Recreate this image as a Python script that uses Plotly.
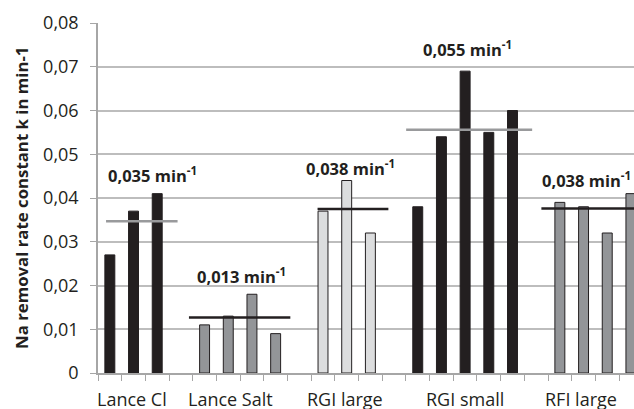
import plotly.graph_objects as go

# ---- data ----
groups = ["Lance Cl", "Lance Salt", "RGI large", "RGI small", "RFI large"]
values = [
    [0.027, 0.037, 0.041],
    [0.011, 0.013, 0.018, 0.009],
    [0.037, 0.044, 0.032],
    [0.038, 0.054, 0.069, 0.055, 0.060],
    [0.039, 0.038, 0.032, 0.041],
]
bar_colors = ["#231f20", "#939598", "#dcddde", "#231f20", "#939598"]
mean_values = [0.0347, 0.0127, 0.0375, 0.0556, 0.0376]
mean_labels = ["0,035", "0,013", "0,038", "0,055", "0,038"]
mean_colors = ["#999a9c", "#231f20", "#231f20", "#999a9c", "#231f20"]
line_start = [-0.16, 3.34, 8.77, 12.51, 18.22]
line_end = [2.86, 7.62, 11.76, 17.83, 22.6]
label_x = [1.79, 5.57, 10.15, 15.09, 20.13]
label_y = [0.0452, 0.0221, 0.04695, 0.07415, 0.0442]
group_label_x = [0.95, 5.1, 9.93, 15.0, 19.9]
ytick_vals = [0, 0.01, 0.02, 0.03, 0.04, 0.05, 0.06, 0.07, 0.08]
ytick_text = ["0", "0,01", "0,02", "0,03", "0,04", "0,05", "0,06", "0,07", "0,08"]

FONT = "Open Sans"

fig = go.Figure()

pos = 0
for g, vals in enumerate(values):
    xs = list(range(pos, pos + len(vals)))
    fig.add_trace(go.Bar(
        x=xs, y=vals, width=0.42,
        marker=dict(color=bar_colors[g], line=dict(color="#231f20", width=1)),
        showlegend=False, hoverinfo="y",
    ))
    pos += len(vals) + 1

for g in range(len(groups)):
    fig.add_trace(go.Scatter(
        x=[line_start[g], line_end[g]], y=[mean_values[g], mean_values[g]],
        mode="lines", line=dict(color=mean_colors[g], width=2.5),
        showlegend=False, hoverinfo="skip", cliponaxis=True,
    ))
    fig.add_annotation(
        x=label_x[g], y=label_y[g], xref="x", yref="y",
        text="<b>%s min<sup>-1</sup></b>" % mean_labels[g],
        showarrow=False, font=dict(family=FONT, size=16.5, color="#231f20"),
        xanchor="center", yanchor="middle",
    )
    fig.add_annotation(
        x=group_label_x[g], y=-0.075, xref="x", yref="paper",
        text=groups[g], showarrow=False,
        font=dict(family=FONT, size=18, color="#231f20"),
        xanchor="center", yanchor="middle",
    )

fig.add_annotation(
    x=-0.1437, y=0.5, xref="paper", yref="paper",
    text="<b>Na removal rate constant k in min-1</b>", textangle=-90,
    showarrow=False, font=dict(family=FONT, size=16.8, color="#231f20"),
    xanchor="center", yanchor="middle",
)

n_slots = pos - 1
fig.update_layout(
    width=634, height=409,
    margin=dict(l=98, r=0, t=23, b=36),
    paper_bgcolor="white", plot_bgcolor="white",
    barmode="overlay",
    xaxis=dict(
        range=[-0.5, 22.13], showgrid=False, zeroline=False,
        showline=True, linecolor="#a6a6a6", linewidth=1.5,
        tickmode="array", tickvals=[i - 0.5 for i in range(n_slots + 1)],
        ticks="outside", ticklen=6, tickcolor="#a6a6a6", tickwidth=1,
        showticklabels=False,
    ),
    yaxis=dict(
        range=[0, 0.08], showgrid=True, gridcolor="#bdbdbd", gridwidth=1.5,
        zeroline=False, showline=True, linecolor="#a6a6a6", linewidth=1.5,
        tickmode="array", tickvals=ytick_vals, ticktext=ytick_text,
        ticks="outside", ticklen=6, tickcolor="#a6a6a6",
        tickfont=dict(family=FONT, size=18, color="#231f20"),
        ticklabelstandoff=8,
    ),
)

fig.write_html(
    "out.html",
    config={"displayModeBar": False},
    post_script="document.body.style.margin='0';"
                "document.documentElement.style.overflow='hidden';",
)
